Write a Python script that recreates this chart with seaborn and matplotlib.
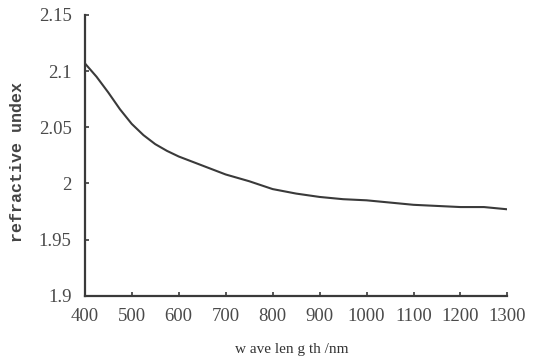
import matplotlib
matplotlib.use("Agg")
import matplotlib.pyplot as plt
import seaborn as sns
import pandas as pd

# 读取图中的曲线数值
wavelength = [400, 425, 450, 475, 500, 525, 550, 575, 600, 650, 700, 750, 800,
              850, 900, 950, 1000, 1050, 1100, 1150, 1200, 1250, 1300]
refractive_index = [2.107, 2.095, 2.081, 2.066, 2.053, 2.043, 2.035, 2.029,
                    2.024, 2.016, 2.008, 2.002, 1.995, 1.991, 1.988, 1.986,
                    1.985, 1.983, 1.981, 1.980, 1.979, 1.979, 1.977]
x_ticks = [400, 500, 600, 700, 800, 900, 1000, 1100, 1200, 1300]
y_ticks = [1.9, 1.95, 2.0, 2.05, 2.1, 2.15]
y_tick_labels = ["1.9", "1.95", "2", "2.05", "2.1", "2.15"]

sns.set_theme(style="ticks")
plt.rcParams["font.family"] = ["Liberation Serif", "DejaVu Serif"]

df = pd.DataFrame({"wavelength": wavelength, "n": refractive_index})

ink = "#3a3a3a"
fig = plt.figure(figsize=(5.54, 3.63), dpi=100)
ax = fig.add_axes([0.153, 0.185, 0.763, 0.774])
sns.lineplot(data=df, x="wavelength", y="n", ax=ax, color=ink, linewidth=1.5)

ax.set_xlim(400, 1300)
ax.set_ylim(1.9, 2.15)
ax.set_xticks(x_ticks)
ax.set_xticklabels([str(t) for t in x_ticks])
ax.set_yticks(y_ticks)
ax.set_yticklabels(y_tick_labels)
ax.tick_params(direction="in", length=3, width=1.2, colors=ink,
               labelsize=13.5, labelcolor="#4a4a4a")
ax.tick_params(axis="x", pad=8.5)
ax.tick_params(axis="y", pad=9.5)
sns.despine(ax=ax)
for s in ["left", "bottom"]:
    ax.spines[s].set_color(ink)
    ax.spines[s].set_linewidth(1.6)

ax.set_xlabel("w ave len g th /nm", fontsize=11, color="#333333")
ax.xaxis.set_label_coords(0.49, -0.167)
ax.set_ylabel("refractive undex", fontsize=12, color="#444444",
              family=["Liberation Mono", "DejaVu Sans Mono"], fontweight="bold")
ax.yaxis.set_label_coords(-0.141, 0.477)

fig.savefig("out.png", dpi=100)
